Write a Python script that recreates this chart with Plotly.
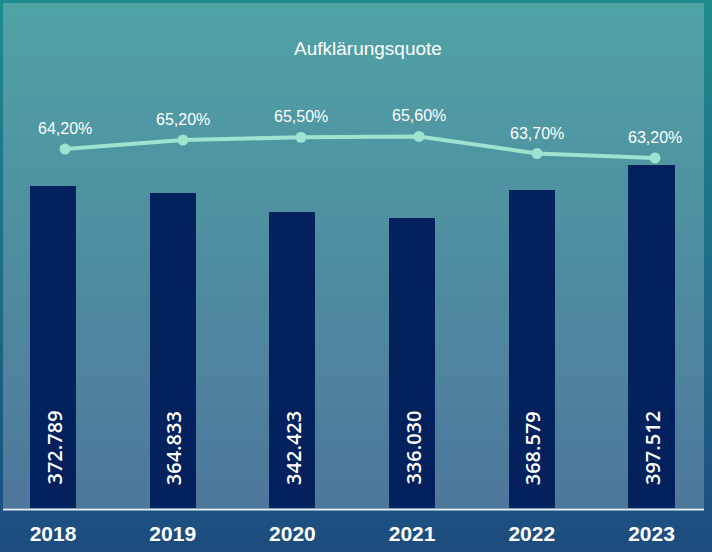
import plotly.graph_objects as go

# ---- data ----
years = ["2018", "2019", "2020", "2021", "2022", "2023"]
cases_solved = [372789, 364833, 342423, 336030, 368579, 397512]
clearance_rate = [64.2, 65.2, 65.5, 65.6, 63.7, 63.2]
title_text = "Aufklärungsquote"

idx = list(range(len(years)))

W, H = 712, 552
B = 44  # bottom margin (band below baseline)
PH = H - B  # plot height

fig = go.Figure()

# background gradient (outer frame)
top_c = (31, 138, 140)
bot_c = (29, 76, 127)
N = 80
y_lo = -B / PH
for i in range(N):
    t0 = i / N
    t1 = (i + 1) / N
    tm = (i + 0.5) / N
    c = tuple(round(top_c[k] + (bot_c[k] - top_c[k]) * tm) for k in range(3))
    fig.add_shape(type="rect", xref="paper", yref="paper",
                  x0=0, x1=1,
                  y1=1 - (1 - y_lo) * t0 + 0.001, y0=1 - (1 - y_lo) * t1 - 0.001,
                  fillcolor=f"rgb{c}", line_width=0, layer="below")
# inner lighter panel
fig.add_shape(type="rect", xref="paper", yref="paper",
              x0=3 / W, x1=704 / W, y0=0, y1=(PH - 3) / PH,
              fillcolor="rgba(255,255,255,0.22)", line_width=0, layer="below")
# baseline
fig.add_shape(type="line", xref="paper", yref="paper",
              x0=3 / W, x1=704 / W, y0=-1.5 / PH, y1=-1.5 / PH,
              line=dict(color="#dff0f4", width=2), layer="above")

fig.add_trace(go.Bar(
    x=idx, y=cases_solved, marker_color="#03215c", marker_line_width=0,
    width=0.385, hoverinfo="skip", showlegend=False,
))

fig.add_trace(go.Scatter(
    x=idx, y=clearance_rate, xaxis="x2", yaxis="y2", mode="lines+markers",
    line=dict(color="#9de3cf", width=4), marker=dict(color="#9de3cf", size=11),
    hoverinfo="skip", showlegend=False,
))

# bar value labels (rotated, at bar base)
for i, v in zip(idx, cases_solved):
    fig.add_annotation(x=i, y=0, xref="x", yref="y", text=f"{v:,}".replace(",", "."),
                       textangle=-90, showarrow=False, yanchor="bottom", xanchor="center",
                       yshift=21, xshift=0.5,
                       font=dict(family="Open Sans", size=20, color="white", weight=600))

# percent labels
for i, p in zip(idx, clearance_rate):
    fig.add_annotation(x=i, y=p, xref="x2", yref="y2", text=f"{p:.2f}%".replace(".", ","),
                       showarrow=False, yanchor="bottom", xanchor="center", yshift=10,
                       font=dict(family="Liberation Sans, Arial", size=16, color="white"))

# title
fig.add_annotation(x=368 / W, y=(PH - 48) / PH, xref="paper", yref="paper",
                   text=title_text, showarrow=False, xanchor="center", yanchor="middle",
                   font=dict(family="Liberation Sans, Arial", size=19, color="white"))

px_bar = 119.7
px_line = 118.0
fig.update_layout(
    width=W, height=H,
    margin=dict(l=0, r=0, t=0, b=B, pad=0),
    paper_bgcolor="rgba(0,0,0,0)", plot_bgcolor="rgba(0,0,0,0)",
    bargap=0,
    xaxis=dict(range=[-53 / px_bar, (W - 53) / px_bar],
               tickmode="array", tickvals=idx, ticktext=years,
               showgrid=False, zeroline=False, showline=False, ticks="",
               ticklabelstandoff=11,
               tickfont=dict(family="Liberation Sans, Arial", size=21, color="white", weight="bold")),
    xaxis2=dict(overlaying="x", range=[-65 / px_line, (W - 65) / px_line],
                visible=False),
    yaxis=dict(range=[0, PH / 0.000863], visible=False),
    yaxis2=dict(overlaying="y", range=[64.2 - (PH - 149) / 9.0, 64.2 + 149 / 9.0], visible=False),
)

fig.write_html("out.html", config={"displayModeBar": False},
               post_script="document.body.style.margin='0';document.body.style.overflow='hidden';")
